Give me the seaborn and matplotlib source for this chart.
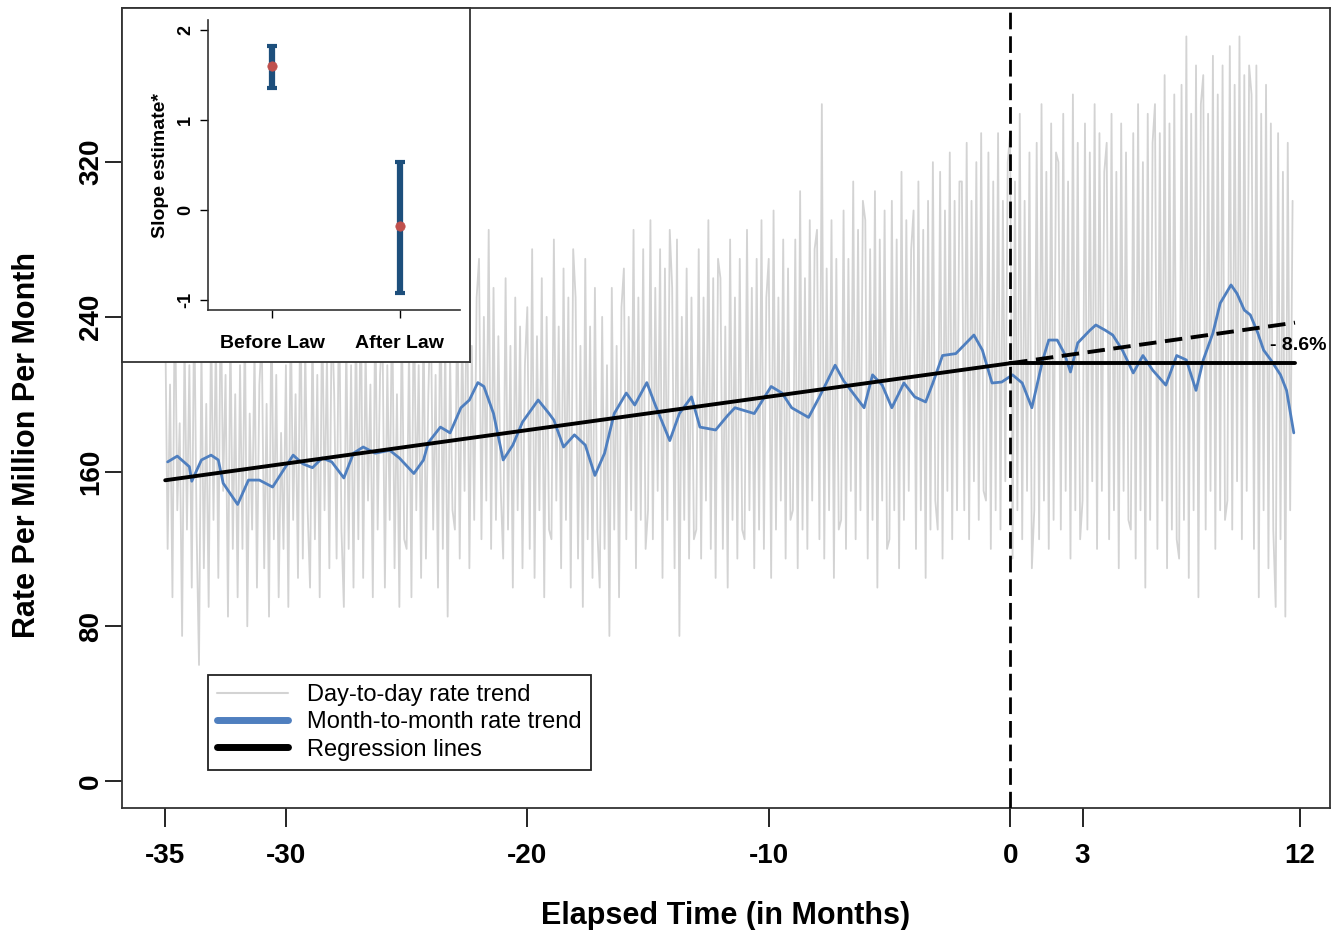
import numpy as np
import pandas as pd
import matplotlib
matplotlib.use("Agg")
import matplotlib.pyplot as plt
import seaborn as sns
from matplotlib.lines import Line2D

# ---------------- data ----------------
# day-to-day rate (ten values per month, starting at month -35)
daily_rate = [
    240, 120, 205, 95, 260, 140, 185, 75, 230, 130,     # -35
    215, 100, 250, 130, 60, 225, 110, 195, 90, 240,     # -34
    135, 230, 105, 255, 150, 210, 85, 235, 120, 200,    # -33
    95, 215, 120, 240, 80, 190, 130, 225, 100, 205,     # -32
    230, 110, 195, 85, 250, 125, 210, 95, 180, 120,     # -31
    215, 90, 245, 135, 200, 105, 260, 115, 225, 140,    # -30
    100, 235, 125, 210, 95, 250, 140, 220, 110, 245,    # -29
    200, 115, 255, 130, 90, 230, 120, 215, 100, 240,    # -28
    125, 260, 105, 225, 145, 205, 95, 250, 130, 210,    # -27
    235, 100, 215, 135, 255, 110, 200, 90, 245, 125,    # -26
    120, 225, 95, 260, 140, 215, 105, 240, 115, 200,    # -25
    250, 130, 210, 100, 265, 120, 230, 85, 220, 140,    # -24
    130, 255, 115, 235, 150, 270, 110, 225, 135, 250,   # -23
    270, 125, 240, 145, 285, 120, 255, 135, 230, 150,   # -22
    115, 260, 130, 225, 100, 250, 140, 235, 110, 215,   # -21
    245, 120, 275, 105, 230, 140, 260, 95, 240, 130,    # -20
    125, 280, 145, 235, 110, 265, 135, 250, 100, 275,   # -19
    250, 115, 225, 90, 270, 125, 235, 105, 255, 130,    # -18
    100, 240, 120, 215, 75, 255, 130, 225, 95, 245,     # -17
    265, 125, 240, 140, 285, 110, 250, 135, 275, 120,   # -16
    140, 290, 125, 255, 150, 275, 105, 265, 135, 285,   # -15
    255, 110, 280, 75, 240, 135, 265, 115, 250, 125,    # -14
    130, 275, 115, 250, 145, 290, 120, 260, 105, 270,   # -13
    260, 120, 235, 100, 280, 135, 250, 115, 270, 130,   # -12
    125, 285, 140, 255, 110, 270, 130, 290, 120, 250,   # -11
    270, 105, 295, 130, 250, 145, 280, 115, 265, 135,   # -10
    140, 280, 110, 305, 130, 260, 120, 290, 145, 275,   # -9
    285, 125, 350, 115, 265, 140, 290, 105, 270, 130,   # -8
    135, 295, 120, 270, 150, 310, 125, 285, 140, 300,   # -7
    290, 115, 275, 135, 305, 100, 280, 145, 295, 120,   # -6
    125, 300, 140, 280, 110, 315, 135, 290, 150, 275,   # -5
    295, 120, 310, 140, 285, 105, 300, 130, 320, 145,   # -4
    130, 315, 115, 295, 150, 325, 125, 300, 140, 310,   # -3
    310, 140, 330, 125, 300, 155, 320, 135, 335, 150,   # -2
    145, 325, 120, 310, 140, 335, 130, 300, 155, 320,   # -1
    335, 115, 310, 140, 345, 125, 300, 150, 325, 110,   # 0
    140, 330, 125, 350, 145, 315, 120, 340, 135, 325,   # 1
    320, 130, 345, 150, 310, 115, 355, 140, 330, 125,   # 2
    145, 340, 130, 325, 155, 350, 120, 335, 150, 315,   # 3
    330, 125, 345, 140, 315, 110, 340, 150, 325, 135,   # 4
    130, 335, 115, 350, 140, 320, 100, 345, 135, 330,   # 5
    350, 120, 335, 145, 365, 110, 340, 130, 355, 125,   # 6
    115, 360, 135, 385, 105, 345, 140, 370, 95, 350,    # 7
    365, 130, 345, 150, 375, 120, 355, 140, 370, 135,   # 8
    145, 380, 130, 360, 155, 385, 125, 365, 150, 370,   # 9
    355, 120, 370, 95, 345, 140, 360, 110, 340, 130,    # 10
    90, 335, 125, 315, 85, 330, 140, 300,               # 11
]

# month-to-month rate trend
monthly_t = [-34.9, -34.5, -34.0, -33.9, -33.5, -33.1, -32.8, -32.6, -32.0, -31.55,
             -31.1, -30.55, -30.1, -29.7, -29.3, -28.9, -28.5, -28.1, -27.6, -27.2,
             -26.8, -26.3, -25.7, -25.3, -24.7, -24.3, -24.1, -23.6, -23.2, -22.75,
             -22.4, -22.05, -21.8, -21.4, -21.0, -20.6, -20.2, -19.55, -19.1, -18.9,
             -18.5, -18.05, -17.6, -17.2, -16.8, -16.4, -15.9, -15.55, -15.05, -14.7,
             -14.1, -13.7, -13.2, -12.85, -12.2, -11.7, -11.4, -10.6, -9.9, -9.45,
             -9.05, -8.35, -7.9, -7.25, -6.9, -6.45, -6.05, -5.7, -5.3, -4.9,
             -4.4, -3.95, -3.5, -3.2, -2.8, -2.25, -1.5, -1.15, -0.75, -0.35,
             0.1, 0.5, 0.9, 1.35, 1.6, 1.95, 2.25, 2.5, 2.8, 3.3,
             3.55, 3.95, 4.25, 4.65, 5.1, 5.5, 5.9, 6.45, 6.9, 7.3,
             7.7, 8.0, 8.4, 8.7, 9.15, 9.4, 9.7, 9.95, 10.25, 10.5,
             10.8, 11.2, 11.45, 11.75]
monthly_rate = [165, 168, 162.5, 155, 166, 168.5, 166, 154, 143, 155.6,
                155.6, 152, 160.8, 168.5, 164, 162, 167, 165, 156.7, 169.5,
                172.7, 169.5, 171, 167, 159, 166, 175, 183, 180, 193,
                197, 206, 204, 190, 166, 173.7, 185.6, 197, 190, 186.6,
                172.7, 179, 173.7, 158, 169.5, 190, 200.6, 194.4, 206, 194.4,
                176, 190, 198.6, 183, 181.5, 189, 193, 190, 204, 200.6,
                193, 188, 198.6, 215, 207, 199.6, 193, 210, 204.7, 193,
                205.8, 198.6, 196, 205.8, 220, 221, 230.6, 222.8, 205.8, 206.3,
                210, 205.8, 193, 217.7, 228, 228, 221, 211.5, 226.5, 233,
                235.8, 233, 230.6, 222.8, 211, 220, 212.5, 204.7, 220, 217.7,
                202, 217.7, 231.6, 247, 256.5, 252, 243.5, 241, 232, 222.8,
                217.7, 210, 202, 180]

# regression lines
reg_pre_t = [-35, 0]
reg_pre_rate = [155.5, 216]
reg_post_t = [0, 11.8]
reg_post_rate = [216, 216]
reg_counterfactual_rate = [216, 237]
change_label = "- 8.6%"

# inset: slope estimates
slope_groups = ["Before Law", "After Law"]
slope_est = [1.6, -0.18]
slope_lo = [1.35, -0.92]
slope_hi = [1.82, 0.53]

x_ticks = [-35, -30, -20, -10, 0, 3, 12]
y_ticks = [0, 80, 160, 240, 320]
inset_y_ticks = [-1, 0, 1, 2]

# ---------------- style ----------------
sns.set_theme(style="ticks")
plt.rcParams["font.family"] = ["Liberation Sans", "DejaVu Sans"]
plt.rcParams["text.color"] = "black"
plt.rcParams["axes.labelcolor"] = "black"

W, H = 1332, 930
fig = plt.figure(figsize=(W / 100, H / 100), dpi=100)
ax = fig.add_axes([122 / W, 1 - 808 / H, 1208 / W, 800 / H])

daily_t = -35 + np.arange(len(daily_rate)) / 10.0
df_daily = pd.DataFrame({"t": daily_t, "rate": daily_rate})
df_month = pd.DataFrame({"t": monthly_t, "rate": monthly_rate})

GRAY = "#d3d3d3"
BLUE = "#4f7fbf"

sns.lineplot(data=df_daily, x="t", y="rate", ax=ax, color=GRAY, lw=1.3,
             estimator=None, sort=False, zorder=1)
sns.lineplot(data=df_month, x="t", y="rate", ax=ax, color=BLUE, lw=2.0,
             estimator=None, sort=False, zorder=3)
sns.lineplot(x=reg_pre_t, y=reg_pre_rate, ax=ax, color="black", lw=2.8,
             estimator=None, zorder=4)
sns.lineplot(x=reg_post_t, y=reg_post_rate, ax=ax, color="black", lw=2.8,
             estimator=None, zorder=4)
sns.lineplot(x=reg_post_t, y=reg_counterfactual_rate, ax=ax, color="black",
             lw=2.8, estimator=None, zorder=4, linestyle=(0, (4.5, 2.2)))
ax.axvline(0, color="black", lw=2.0, linestyle=(0, (6, 2.5)), zorder=5)

ax.text(10.75, 225, change_label, fontsize=14, fontweight="bold",
        ha="left", va="center", zorder=6, color="black")

ax.set_xlim(-36.79, 13.25)
ax.set_ylim(-13.96, 399.7)
ax.set_xticks(x_ticks)
ax.set_xticklabels([str(v) for v in x_ticks], fontweight="bold", fontsize=20)
ax.set_yticks(y_ticks)
ax.set_yticklabels([str(v) for v in y_ticks], fontweight="bold", fontsize=20,
                   rotation=90, va="center")
ax.tick_params(axis="x", length=14, width=1.2, direction="out", pad=11, colors="black")
ax.tick_params(axis="y", length=12, width=1.2, direction="out", pad=1, colors="black")
for s in ax.spines.values():
    s.set_color("#333333")
    s.set_linewidth(1.3)
ax.set_xlabel("Elapsed Time (in Months)", fontsize=22, fontweight="bold", labelpad=23)
ax.set_ylabel("Rate Per Million Per Month", fontsize=22, fontweight="bold")
ax.yaxis.set_label_coords(-0.066, 0.454)

handles = [Line2D([], [], color=GRAY, lw=1.5),
           Line2D([], [], color=BLUE, lw=5),
           Line2D([], [], color="black", lw=5)]
labels = ["Day-to-day rate trend", "Month-to-month rate trend", "Regression lines"]
leg = ax.legend(handles, labels, loc="lower left", bbox_to_anchor=(0.0712, 0.0475),
                frameon=True, fancybox=False, edgecolor="#222222", framealpha=1,
                fontsize=17, borderpad=0.4, labelspacing=0.22, handlelength=3.0,
                handletextpad=0.8, borderaxespad=0)
leg.get_frame().set_linewidth(1.3)

# ---------------- inset ----------------
frame = fig.add_axes([122 / W, 1 - 362 / H, 348 / W, 354 / H], zorder=10)
frame.set_facecolor("white")
frame.set_xticks([])
frame.set_yticks([])
for s in frame.spines.values():
    s.set_color("#333333")
    s.set_linewidth(1.3)

ins = fig.add_axes([208 / W, 1 - 310 / H, 252 / W, 290 / H], zorder=11)
ins.set_facecolor("white")
xpos = [1, 2]
ins.errorbar(xpos, slope_est,
             yerr=[np.subtract(slope_est, slope_lo), np.subtract(slope_hi, slope_est)],
             fmt="none", ecolor="#1d4f7c", elinewidth=4.5, capsize=3.5, capthick=3)
sns.scatterplot(x=xpos, y=slope_est, ax=ins, color="#c0504d", s=45,
                edgecolor="#c0504d", zorder=5)
ins.set_xlim(0.5, 2.47)
ins.set_ylim(-1.11, 2.11)
ins.set_xticks(xpos)
ins.set_xticklabels(slope_groups, fontweight="bold", fontsize=14)
ins.set_yticks(inset_y_ticks)
ins.set_yticklabels([str(v) for v in inset_y_ticks], fontweight="bold", fontsize=13,
                    rotation=90, va="center")
ins.tick_params(axis="both", length=6, width=1, direction="out", colors="black")
ins.tick_params(axis="x", pad=12)
ins.tick_params(axis="y", pad=4)
ins.spines["top"].set_visible(False)
ins.spines["right"].set_visible(False)
for s in ["left", "bottom"]:
    ins.spines[s].set_color("#333333")
    ins.spines[s].set_linewidth(1.2)
ins.set_ylabel("Slope estimate*", fontsize=14, fontweight="bold", labelpad=6)

fig.savefig("out.png", dpi=100)
